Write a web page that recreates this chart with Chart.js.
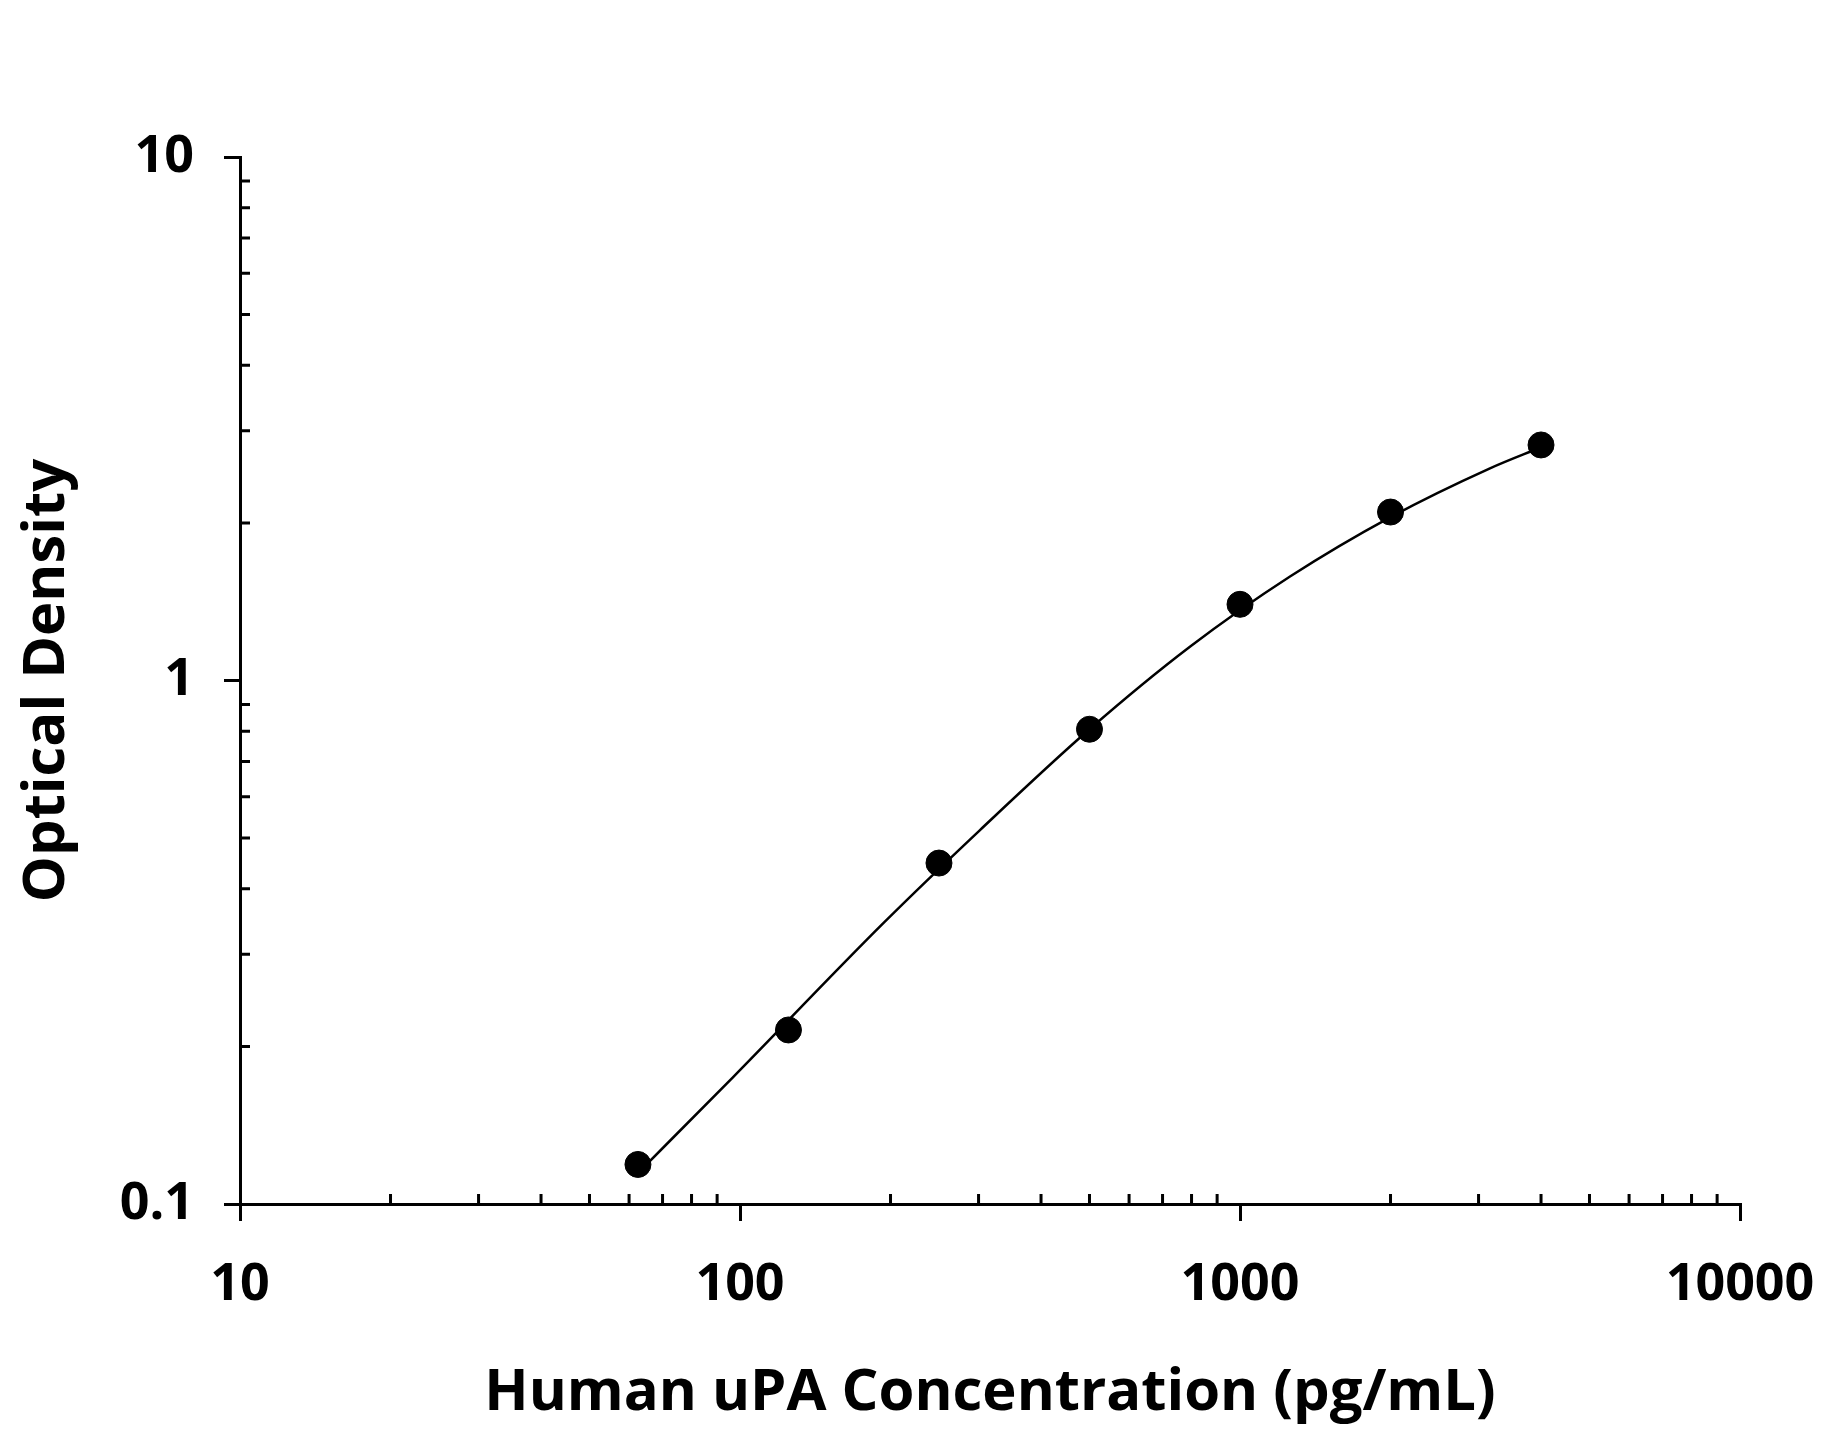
<!DOCTYPE html>
<html>
<head>
<meta charset="utf-8">
<script src="https://cdn.jsdelivr.net/npm/chart.js@4.4.1/dist/chart.umd.min.js"></script>
<style>
  html, body { margin: 0; padding: 0; background: #fff; }
  #wrap { width: 1821px; height: 1433px; position: relative; }
</style>
</head>
<body>
<div id="wrap"><canvas id="grafico"></canvas></div>
<script>
const concentracao = [62.5, 125, 250, 500, 1000, 2000, 4000];
const densidade = [0.119, 0.215, 0.448, 0.807, 1.398, 2.098, 2.818];

// fitted standard curve
const ajusteConc = [62.5, 97, 193.5, 302, 500, 794, 1259, 2000, 3162, 4000];
const ajusteOD = [0.1146, 0.175, 0.344, 0.518, 0.807, 1.16, 1.58, 2.052, 2.543, 2.79];

const xTicks = [10, 100, 1000, 10000];
const yTicks = [0.1, 1, 10];

const fonte = 'Open Sans';

// minor tick marks drawn inside the plot, majors stay outside
const minorTicks = {
  id: 'minorTicks',
  afterDraw(chart) {
    const { ctx, scales: { x, y }, chartArea } = chart;
    ctx.save();
    ctx.strokeStyle = '#000';
    ctx.lineWidth = 3;
    ctx.beginPath();
    for (let d = 0; d < xTicks.length - 1; d++) {
      for (let k = 2; k <= 9; k++) {
        const px = x.getPixelForValue(xTicks[d] * k);
        ctx.moveTo(px, chartArea.bottom);
        ctx.lineTo(px, chartArea.bottom - 10);
      }
    }
    for (let d = 0; d < yTicks.length - 1; d++) {
      for (let k = 2; k <= 9; k++) {
        const py = y.getPixelForValue(yTicks[d] * k);
        ctx.moveTo(chartArea.left, py);
        ctx.lineTo(chartArea.left + 10, py);
      }
    }
    ctx.stroke();
    ctx.restore();
  }
};

new Chart(document.getElementById('grafico'), {
  type: 'line',
  data: {
    datasets: [
      {
        label: 'ajuste',
        data: ajusteConc.map((c, i) => ({ x: c, y: ajusteOD[i] })),
        borderColor: '#000',
        borderWidth: 2.5,
        cubicInterpolationMode: 'monotone',
        pointRadius: 0,
        pointHoverRadius: 0,
        fill: false
      },
      {
        label: 'pontos',
        data: concentracao.map((c, i) => ({ x: c, y: densidade[i] })),
        showLine: false,
        pointRadius: 13,
        pointHoverRadius: 13,
        pointBackgroundColor: '#000',
        pointBorderColor: '#000',
        backgroundColor: '#000',
        borderColor: '#000'
      }
    ]
  },
  options: {
    responsive: true,
    maintainAspectRatio: false,
    animation: false,
    layout: { padding: { top: 157, right: 81, left: 0, bottom: 0 } },
    plugins: {
      legend: { display: false },
      tooltip: { enabled: false }
    },
    scales: {
      x: {
        type: 'logarithmic',
        min: 10,
        max: 10000,
        afterBuildTicks: s => { s.ticks = xTicks.map(v => ({ value: v, major: true })); },
        afterFit: s => {
          s.height = 1433 - 1204;
          s.paddingLeft = 0;
          s.paddingRight = 0;
        },
        border: { display: true, color: '#000', width: 3 },
        grid: { drawOnChartArea: false, drawTicks: true, tickLength: 17, lineWidth: 3, color: '#000' },
        ticks: {
          color: '#000',
          padding: 33,
          maxRotation: 0,
          autoSkip: false,
          font: { family: fonte, size: 52, weight: 'bold' },
          callback: v => String(v)
        },
        title: {
          display: true,
          text: 'Human uPA Concentration (pg/mL)',
          color: '#000',
          font: { family: fonte, size: 58, weight: 'bold' },
          padding: { top: 0, bottom: 5 }
        }
      },
      y: {
        type: 'logarithmic',
        min: 0.1,
        max: 10,
        afterBuildTicks: s => { s.ticks = yTicks.map(v => ({ value: v, major: true })); },
        afterFit: s => { s.width = 240; },
        border: { display: true, color: '#000', width: 3 },
        grid: { drawOnChartArea: false, drawTicks: true, tickLength: 16, lineWidth: 3, color: '#000' },
        ticks: {
          color: '#000',
          padding: 30,
          autoSkip: false,
          font: { family: fonte, size: 52, weight: 'bold' },
          callback: v => String(v)
        },
        title: {
          display: true,
          text: 'Optical Density',
          color: '#000',
          font: { family: fonte, size: 58, weight: 'bold' },
          padding: { top: 13, bottom: 0 }
        }
      }
    }
  },
  plugins: [minorTicks]
});
</script>
</body>
</html>
